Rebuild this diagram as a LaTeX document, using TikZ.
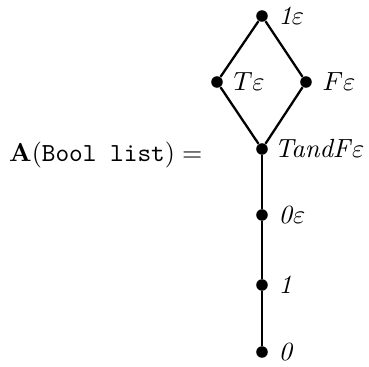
\documentclass[tikz,border=0pt]{standalone}
\begin{document}
\begin{tikzpicture}[x=0.415pt,y=-0.415pt,
  dot/.style={circle,fill=black,inner sep=0pt,minimum size=4.8pt},
  lab/.style={anchor=west,inner sep=0pt,scale=1.09},
  edge/.style={line width=0.95pt}]
\useasboundingbox (0,0) rectangle (369,366);
\node[dot] (top) at (262,16) {};
\node[dot] (T) at (217,82) {};
\node[dot] (F) at (306,82) {};
\node[dot] (TF) at (262,149) {};
\node[dot] (z) at (262,215) {};
\node[dot] (one) at (262,285) {};
\node[dot] (zero) at (262,352) {};
\draw[edge] (top) -- (T) -- (TF) -- (F) -- (top);
\draw[edge] (TF) -- (z) -- (one) -- (zero);
\node[lab] (ltop) at (278,16) {\textit{1}$\varepsilon$};
\node[lab] (lT) at (233,82) {$T\varepsilon$};
\node[lab] (lF) at (322,82) {$F\varepsilon$};
\node[lab] (lTF) at (274,149) {\textit{TandF}$\varepsilon$};
\node[lab] (lz) at (278,215) {\textit{0}$\varepsilon$};
\node[lab] (lone) at (278,285) {\textit{1}};
\node[lab] (lzero) at (278,352) {\textit{0}};
\node[anchor=east,inner sep=0pt,scale=1.08] (eq) at (203,155) {$\mathbf{A}(\texttt{Bool list})=$};
\end{tikzpicture}
\end{document}
